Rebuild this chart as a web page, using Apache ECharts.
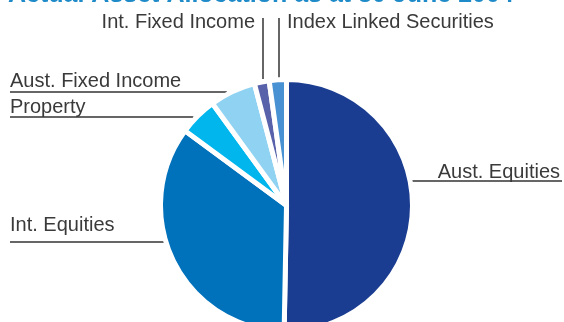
<!DOCTYPE html>
<html>
<head>
<meta charset="utf-8">
<script src="https://cdn.jsdelivr.net/npm/echarts@6/dist/echarts.min.js"></script>
<style>html,body{margin:0;padding:0;background:#fff}#c{width:564px;height:322px}</style>
</head>
<body>
<div id="c"></div>
<script>
const categories = ['Aust. Equities', 'Int. Equities', 'Property', 'Aust. Fixed Income', 'Int. Fixed Income', 'Index Linked Securities'];
const values = [50.3, 34.8, 4.9, 5.9, 1.9, 2.2];
const colors = ['#1b3d91', '#0071bb', '#00b6ed', '#8fd2f2', '#5862aa', '#4891d2'];

// label layout (positions, not data)
const CX = 286.5, CY = 205.5, R = 123.5;
const labelSpec = [
  {side: 'right', lineY: 181, lineEnd: 562, textX: 560, base: 178},
  {side: 'left', lineY: 242, lineEnd: 10, textX: 10, base: 231},
  {side: 'left', lineY: 117, lineEnd: 10, textX: 10, base: 113, gap: 7},
  {side: 'left', lineY: 92, lineEnd: 10, textX: 10, base: 87, gap: 11},
  {side: 'top', lineX: 263, top: 18, bottom: 79, textX: 255, base: 28, align: 'right'},
  {side: 'top', lineX: 279, top: 18, bottom: 79, textX: 287, base: 28, align: 'left'}
];

const chart = echarts.init(document.getElementById('c'), null, {renderer: 'canvas'});
chart.setOption({
  animation: false,
  title: {
    text: 'Actual Asset Allocation as at 30 June 2004',
    left: 8, top: -17, padding: 0,
    textStyle: {color: '#1e8ac8', fontSize: 25, fontWeight: 'bold', fontFamily: 'Liberation Sans'}
  },
  series: [{
    type: 'pie',
    center: [CX, CY],
    radius: [0, R + 2.5],
    startAngle: 90,
    clockwise: true,
    avoidLabelOverlap: false,
    data: categories.map((n, i) => ({name: n, value: values[i], itemStyle: {color: colors[i]}})),
    itemStyle: {borderColor: '#fff', borderWidth: 5},
    label: {
      show: true, position: 'outside', formatter: '{b}',
      color: '#3a3a3a', fontSize: 20, fontFamily: 'Liberation Sans'
    },
    labelLine: {show: true, length: 10, length2: 10, smooth: false, lineStyle: {color: '#333', width: 1.5}},
    labelLayout: function (p) {
      const s = labelSpec[p.dataIndex];
      if (s.side === 'right' || s.side === 'left') {
        const dy = s.lineY - CY;
        const dx = Math.sqrt(Math.max(0, R * R - dy * dy));
        const sign = s.side === 'right' ? 1 : -1;
        const start = CX + sign * (dx + (s.gap || 4));
        return {
          x: s.textX, y: s.base + 4,
          align: s.side === 'right' ? 'right' : 'left', verticalAlign: 'bottom',
          labelLinePoints: [[start, s.lineY], [start, s.lineY], [s.lineEnd, s.lineY]]
        };
      }
      return {
        x: s.textX, y: s.base + 4, align: s.align, verticalAlign: 'bottom',
        labelLinePoints: [[s.lineX, s.bottom], [s.lineX, s.bottom], [s.lineX, s.top]]
      };
    }
  }]
});
</script>
</body>
</html>
